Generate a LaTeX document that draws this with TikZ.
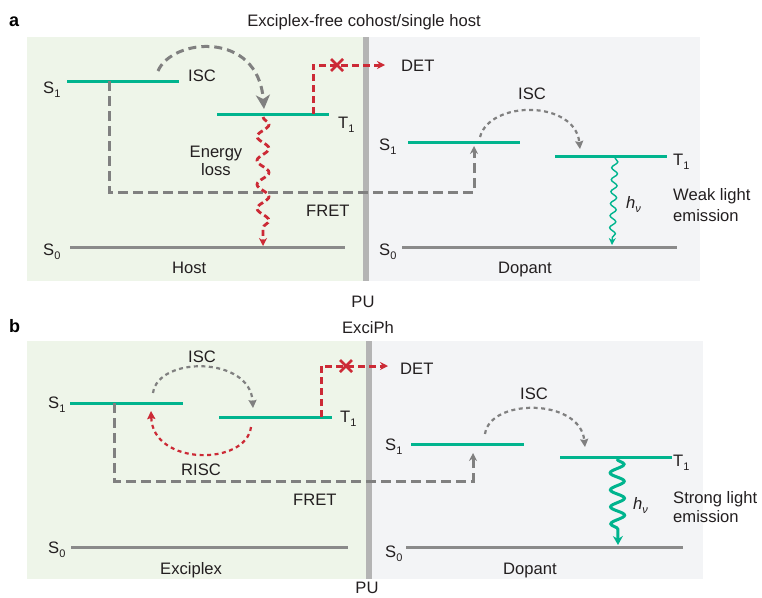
\documentclass[tikz,border=0pt]{standalone}
\usepackage{fontspec}
\setmainfont{Liberation Sans}
\usetikzlibrary{arrows.meta,decorations.pathmorphing,calc}
\definecolor{tealL}{HTML}{00B48E}
\definecolor{redL}{HTML}{CC2A36}
\definecolor{grayL}{HTML}{808080}
\definecolor{groundL}{HTML}{8A8A8A}
\definecolor{greenbg}{HTML}{EEF5E9}
\definecolor{graybg}{HTML}{F3F4F6}
\definecolor{divL}{HTML}{B4B4B4}
\definecolor{ink}{HTML}{231F20}
\newcommand\subs[1]{\raisebox{-4pt}{\fontsize{11}{11}\selectfont #1}}
\begin{document}
\begin{tikzpicture}[x=1pt,y=-1pt,
  level/.style={line width=3pt, tealL},
  ground/.style={line width=3pt, groundL},
  fret/.style={grayL, line width=3pt, dash pattern=on 10pt off 5pt, -{Stealth[length=8pt,width=8pt]}},
  bigisc/.style={grayL, line width=3pt, dash pattern=on 8pt off 5pt, -{Stealth[length=14pt,width=14pt,inset=4pt]}},
  smallisc/.style={grayL, line width=2.2pt, dash pattern=on 4pt off 3.5pt, -{Stealth[length=8pt,width=8pt,inset=1pt]}},
  risc/.style={redL, line width=2.2pt, dash pattern=on 4pt off 3.5pt, -{Stealth[length=8pt,width=8pt,inset=1pt]}},
  det/.style={redL, line width=3pt, dash pattern=on 7pt off 4pt, -{Stealth[length=8pt,width=8pt]}},
  xmark/.style={redL, line width=2.8pt},
  lbl/.style={font=\fontsize{16.6}{19}\selectfont, text=ink, inner sep=0pt, anchor=base west},
  ctr/.style={lbl, anchor=base},
  panel/.style={font=\fontsize{18}{20}\selectfont\bfseries, text=black, inner sep=0pt, anchor=base west}]
\useasboundingbox (0,0) rectangle (762,597);

% ---------------- Panel a ----------------
\fill[greenbg] (27,37) rectangle (363,281);
\fill[graybg] (369,37) rectangle (700,281);
\fill[divL] (363,37) rectangle (369,281);

\node[panel] (pa) at (9,26) {a};
\node[ctr] (ta) at (364,27) {Exciplex-free cohost/single host};
\node[ctr] (pua) at (363,307) {PU};

% host levels
\coordinate (aS1l) at (67,81);  \coordinate (aS1r) at (179,81);
\coordinate (aT1l) at (217,114); \coordinate (aT1r) at (329,114);
\coordinate (aS0l) at (70,247); \coordinate (aS0r) at (345,247);
\draw[level] (aS1l) -- (aS1r);
\draw[level] (aT1l) -- (aT1r);
\draw[ground] (aS0l) -- (aS0r);

% dopant levels
\coordinate (adS1l) at (408,142); \coordinate (adS1r) at (520,142);
\coordinate (adT1l) at (555,156); \coordinate (adT1r) at (667,156);
\coordinate (adS0l) at (402,247); \coordinate (adS0r) at (677,247);
\draw[level] (adS1l) -- (adS1r);
\draw[level] (adT1l) -- (adT1r);
\draw[ground] (adS0l) -- (adS0r);

% FRET
\coordinate (afs) at (109,81);
\coordinate (afe) at (474,146);
\draw[fret] (afs) -- (109,192) -- (474,192) -- (afe);

% energy loss wavy
\coordinate (aws) at (263,117);
\coordinate (awe) at (263,246);
\draw[redL, line width=2.8pt, dash pattern=on 6pt off 3.5pt,
  decorate, decoration={snake, amplitude=6pt, segment length=24pt, post length=8pt},
  -{Stealth[length=8pt,width=8pt]}] (aws) -- (awe);

% ISC host
\coordinate (aIs) at (158,71);
\coordinate (aIe) at (264,109);
\draw[bigisc] (aIs) .. controls (172,38) and (258,30) .. (aIe);

% DET
\coordinate (ads) at (313,114);
\coordinate (ade) at (385,65);
\draw[det] (ads) -- (313,65) -- (ade);
\coordinate (ax) at (337,65);
\draw[xmark] ($(ax)+(-6,-6)$) -- ($(ax)+(6,6)$);
\draw[xmark] ($(ax)+(-6,6)$) -- ($(ax)+(6,-6)$);

% ISC dopant
\coordinate (adIs) at (480,137);
\coordinate (adIe) at (580,149);
\draw[smallisc] (adIs) .. controls (490,100) and (575,100) .. (adIe);

% weak emission
\coordinate (aes) at (615,158);
\coordinate (aee) at (612,245);
\draw[tealL, line width=1.4pt,
  decorate, decoration={snake, amplitude=3pt, segment length=12pt, post length=6pt},
  -{Stealth[length=7pt,width=7pt]}] (aes) -- (aee);

% labels a
\node[lbl] (aS1t) at (43,93) {S\subs{1}};
\node[lbl] (aISC) at (188,81) {ISC};
\node[lbl] (aT1t) at (338,128) {T\subs{1}};
\node[ctr] (aEn) at (216,157) {Energy};
\node[ctr] (aLo) at (216,175) {loss};
\node[lbl] (aFR) at (306,216) {FRET};
\node[lbl] (aS0t) at (43,255) {S\subs{0}};
\node[lbl] (aHo) at (172,273) {Host};
\node[lbl] (aDET) at (401,71) {DET};
\node[lbl] (adISC) at (518,99) {ISC};
\node[lbl] (adS1t) at (379,150) {S\subs{1}};
\node[lbl] (adT1t) at (673,165) {T\subs{1}};
\node[lbl] (ahv) at (626,208) {\itshape h\subs{\itshape ν}};
\node[lbl] (aW1) at (673,200) {Weak light};
\node[lbl] (aW2) at (673,221) {emission};
\node[lbl] (adS0t) at (379,255) {S\subs{0}};
\node[lbl] (aDo) at (498,273) {Dopant};

% ---------------- Panel b ----------------
\fill[greenbg] (27,341) rectangle (366,579);
\fill[graybg] (372,341) rectangle (703,579);
\fill[divL] (366,341) rectangle (372,579);

\node[panel] (pb) at (9,332) {b};
\node[ctr] (tb) at (368,333) {ExciPh};
\node[ctr] (pub) at (367,593) {PU};

% host levels
\coordinate (bS1l) at (70,403);  \coordinate (bS1r) at (183,403);
\coordinate (bT1l) at (219,417); \coordinate (bT1r) at (332,417);
\coordinate (bS0l) at (71,547); \coordinate (bS0r) at (348,547);
\draw[level] (bS1l) -- (bS1r);
\draw[level] (bT1l) -- (bT1r);
\draw[ground] (bS0l) -- (bS0r);

% dopant levels
\coordinate (bdS1l) at (411,444); \coordinate (bdS1r) at (524,444);
\coordinate (bdT1l) at (560,457); \coordinate (bdT1r) at (672,457);
\coordinate (bdS0l) at (406,547); \coordinate (bdS0r) at (683,547);
\draw[level] (bdS1l) -- (bdS1r);
\draw[level] (bdT1l) -- (bdT1r);
\draw[ground] (bdS0l) -- (bdS0r);

% FRET
\coordinate (bfs) at (114,403);
\coordinate (bfe) at (473,453);
\draw[fret] (bfs) -- (114,481) -- (473,481) -- (bfe);

% ISC / RISC host
\coordinate (bIs) at (153,393);
\coordinate (bIe) at (253,408);
\draw[smallisc] (bIs) .. controls (158,356) and (250,356) .. (bIe);
\coordinate (bRs) at (251,427);
\coordinate (bRe) at (151,411);
\draw[risc] (bRs) .. controls (246,466) and (153,466) .. (bRe);

% DET
\coordinate (bds) at (321,417);
\coordinate (bde) at (388,366);
\draw[det] (bds) -- (321,366) -- (bde);
\coordinate (bx) at (346,366);
\draw[xmark] ($(bx)+(-6,-6)$) -- ($(bx)+(6,6)$);
\draw[xmark] ($(bx)+(-6,6)$) -- ($(bx)+(6,-6)$);

% ISC dopant
\coordinate (bdIs) at (485,434);
\coordinate (bdIe) at (585,447);
\draw[smallisc] (bdIs) .. controls (490,398) and (580,398) .. (bdIe);

% strong emission
\coordinate (bes) at (617,459);
\coordinate (bee) at (618,545);
\draw[tealL, line width=3pt,
  decorate, decoration={snake, amplitude=7pt, segment length=17pt, post length=8pt},
  -{Stealth[length=9pt,width=10pt]}] (bes) -- (bee);

% labels b
\node[lbl] (bS1t) at (48,408) {S\subs{1}};
\node[lbl] (bISC) at (188,362) {ISC};
\node[lbl] (bT1t) at (340,422) {T\subs{1}};
\node[lbl] (bRI) at (181,475) {RISC};
\node[lbl] (bFR) at (293,505) {FRET};
\node[lbl] (bS0t) at (48,553) {S\subs{0}};
\node[lbl] (bEx) at (160,574) {Exciplex};
\node[lbl] (bDET) at (400,374) {DET};
\node[lbl] (bdISC) at (520,399) {ISC};
\node[lbl] (bdS1t) at (385,450) {S\subs{1}};
\node[lbl] (bdT1t) at (673,466) {T\subs{1}};
\node[lbl] (bhv) at (633,509) {\itshape h\subs{\itshape ν}};
\node[lbl] (bW1) at (673,503) {Strong light};
\node[lbl] (bW2) at (673,522) {emission};
\node[lbl] (bdS0t) at (385,557) {S\subs{0}};
\node[lbl] (bDo) at (503,574) {Dopant};
\end{tikzpicture}
\end{document}
